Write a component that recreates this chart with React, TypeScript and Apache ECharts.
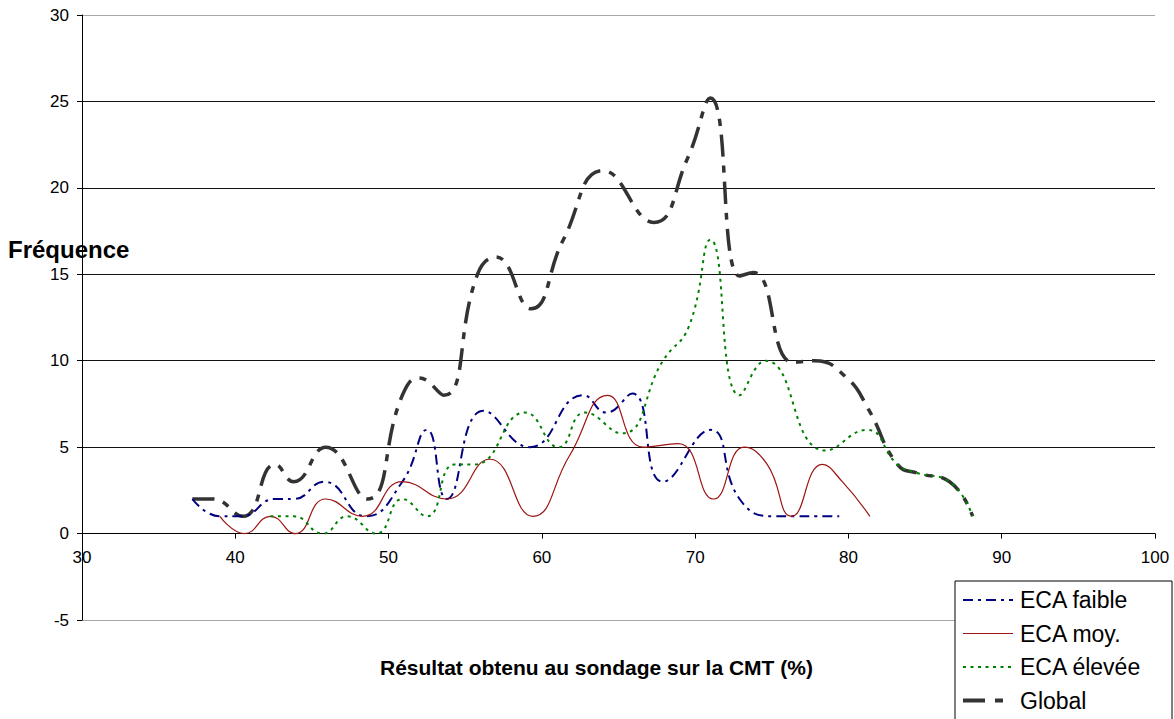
import React, { useEffect, useRef } from "react";
import * as echarts from "echarts";

const seriesNames = ["ECA faible", "ECA moy.", "ECA élevée", "Global"];

const faibleX = [37.2, 39.0, 40.4, 42.6, 43.8, 45.8, 48.5, 50.9, 52.5, 53.8, 56.2, 59.2, 62.7, 64.2, 65.9, 67.9, 71.0, 72.9, 75.1, 76.6, 77.8, 79.4];
const faibleY = [2, 1, 1, 2, 2, 3, 1, 3, 6, 2, 7.1, 5, 8, 7, 8.1, 3, 6, 2, 1, 1, 1, 1];

const moyX = [39.0, 40.6, 42.3, 43.9, 45.9, 48.3, 50.9, 53.8, 56.6, 59.4, 61.8, 64.3, 66.6, 68.9, 71.2, 73.2, 74.7, 76.3, 78.3, 79.6, 81.4];
const moyY = [1, 0, 1, 0, 2, 1, 3, 2, 4.3, 1, 4.5, 8, 5, 5.2, 2, 5, 4, 1, 4, 3, 1];

const eleveeX = [42.3, 43.8, 45.7, 47.3, 49.2, 50.9, 52.5, 54.3, 55.6, 58.9, 61.1, 62.8, 65.2, 67.9, 69.6, 71.0, 72.9, 74.6, 78.5, 81.2, 83.2, 84.5, 86.6, 88.1];
const eleveeY = [1, 1, 0, 1, 0, 2, 1, 4, 4, 7, 5, 7, 5.8, 10, 12, 17, 8, 10, 4.8, 6, 4, 3.5, 3, 1];

const globalX = [37.2, 38.5, 40.5, 42.6, 43.8, 45.9, 48.6, 50.9, 52.0, 53.6, 55.8, 57.0, 59.3, 61.4, 64.0, 67.3, 69.5, 71.0, 72.9, 73.8, 76.4, 77.8, 79.9, 81.3, 83.2, 84.5, 86.6, 88.1];
const globalY = [2, 2, 1, 4, 3, 5, 2, 8, 9, 8, 15, 16, 13, 17, 21, 18, 21.7, 25.2, 14.9, 15.1, 9.9, 10, 9, 7.2, 4, 3.5, 3, 1];

const yTicks = [-5, 0, 5, 10, 15, 20, 25, 30];
const xTicks = [30, 40, 50, 60, 70, 80, 90, 100];

const xTitle = "Résultat obtenu au sondage sur la CMT (%)";
const yTitle = "Fréquence";

const pair = (xs: number[], ys: number[]) => xs.map((x, i) => [x, ys[i]]);

const FONT = "'Liberation Sans', Arial, sans-serif";

const COLORS = ["#000080", "#9c1414", "#008000", "#333333"];
const WIDTHS = [2, 1.2, 2, 3.5];
const DASHES: (number[] | null)[] = [[10, 5, 3, 5], null, [3, 4.5], [22, 9, 7, 9]];
const LEGEND_DASHES: (number[] | null)[] = [[10, 5, 3, 5], null, [3, 4.5], [22, 10, 8, 10]];

export default function App() {
  const ref = useRef<HTMLDivElement>(null);
  useEffect(() => {
    document.body.style.margin = "0";
    if (!ref.current) return;
    const chart = echarts.init(ref.current, undefined, { renderer: "svg" });
    const gridColors = yTicks.map((t) => (t === yTicks[0] || t === yTicks[yTicks.length - 1] ? "#a8a8a8" : "#111"));
    const gridTop = 15;
    const gridBottom = 99;
    const plotH = 719 - gridTop - gridBottom;
    const zeroOffset = (plotH * (0 - yTicks[0])) / (yTicks[yTicks.length - 1] - yTicks[0]);

    const legendLeft = 955;
    const legendTop = 581;
    const rowY = [600, 633.5, 667, 700.5];
    const legendGraphics: any[] = [
      {
        type: "rect",
        shape: { x: legendLeft, y: legendTop, width: 217, height: 160 },
        style: { fill: "#fff", stroke: "#000", lineWidth: 1 },
        z: 10,
      },
    ];
    seriesNames.forEach((name, i) => {
      legendGraphics.push({
        type: "line",
        shape: { x1: 963, y1: rowY[i], x2: 1013, y2: rowY[i] },
        style: {
          stroke: COLORS[i],
          lineWidth: i === 3 ? 4 : WIDTHS[i],
          lineDash: LEGEND_DASHES[i] || undefined,
        },
        z: 11,
      });
      legendGraphics.push({
        type: "text",
        x: 1020,
        y: rowY[i],
        style: { text: name, font: `23px ${FONT}`, fill: "#000", verticalAlign: "middle", align: "left" },
        z: 11,
      });
    });

    chart.setOption({
      animation: false,
      backgroundColor: "#fff",
      grid: { left: 82, right: 19, top: gridTop, bottom: gridBottom, containLabel: false },
      xAxis: {
        type: "value",
        min: xTicks[0],
        max: xTicks[xTicks.length - 1],
        interval: 10,
        offset: -zeroOffset,
        axisLine: { show: true, onZero: false, lineStyle: { color: "#000", width: 1 } },
        axisTick: { show: true, length: 5, lineStyle: { color: "#000" } },
        axisLabel: { color: "#000", fontSize: 17, fontFamily: FONT, margin: 15 },
        splitLine: { show: false },
      },
      yAxis: {
        type: "value",
        min: yTicks[0],
        max: yTicks[yTicks.length - 1],
        interval: 5,
        axisLine: { show: true, lineStyle: { color: "#000", width: 1 } },
        axisTick: { show: true, length: 5, lineStyle: { color: "#000" } },
        axisLabel: { color: "#000", fontSize: 17, fontFamily: FONT, margin: 13 },
        splitLine: { show: true, lineStyle: { color: gridColors, width: 1 } },
      },
      graphic: [
        {
          type: "text",
          x: 8,
          y: 249,
          style: { text: yTitle, font: `bold 24px ${FONT}`, fill: "#000", verticalAlign: "middle" },
          z: 5,
        },
        {
          type: "text",
          x: 380,
          y: 667,
          style: { text: xTitle, font: `bold 21px ${FONT}`, fill: "#000", verticalAlign: "middle" },
        },
        ...legendGraphics,
      ],
      series: seriesNames.map((name, i) => ({
        name,
        type: "line",
        smooth: 0.5,
        symbol: "none",
        data: [pair(faibleX, faibleY), pair(moyX, moyY), pair(eleveeX, eleveeY), pair(globalX, globalY)][i],
        lineStyle: { color: COLORS[i], width: WIDTHS[i], type: DASHES[i] || "solid" },
        itemStyle: { color: COLORS[i] },
        z: [3, 3, 4, 2][i],
      })),
    });
    return () => chart.dispose();
  }, []);
  return <div ref={ref} style={{ width: 1174, height: 719, position: "absolute", left: 0, top: 0 }} />;
}
